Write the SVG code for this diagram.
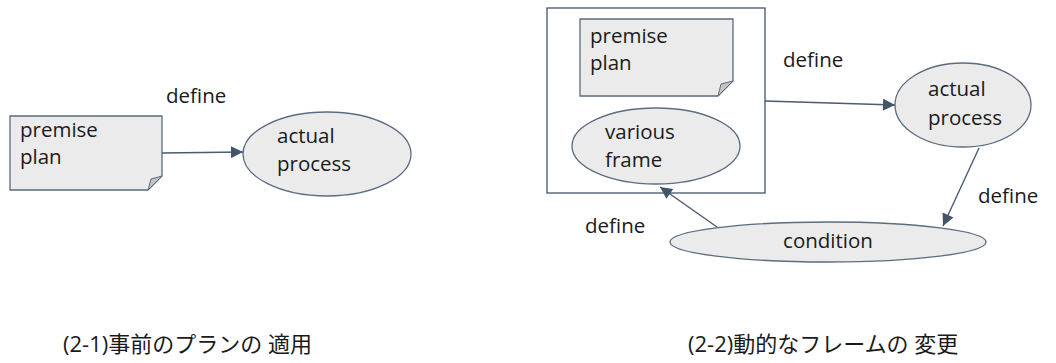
<svg xmlns="http://www.w3.org/2000/svg" width="1056" height="363" viewBox="0 0 1056 363">
  <defs>
    <marker id="arrow" viewBox="0 0 10 10" refX="10" refY="5" markerWidth="14" markerHeight="12" markerUnits="userSpaceOnUse" orient="auto">
      <path d="M0,0 L10,5 L0,10 Z" fill="#44546a"/>
    </marker>
    <style>
      .shape { fill: #ebebeb; stroke: #5b6b80; stroke-width: 1.3; }
      .frame { fill: #ffffff; stroke: #44546a; stroke-width: 1.3; }
      .fold { fill: #c4c4c4; stroke: #5b6b80; stroke-width: 1; }
      .edge { fill: none; stroke: #4a5a70; stroke-width: 1.4; marker-end: url(#arrow); }
      text { font-family: "Open Sans", "Noto Sans", "Liberation Sans", sans-serif; font-size: 20.5px; fill: #1a1a1a; }
      .caption { font-family: "Open Sans", "Noto Sans CJK JP", sans-serif; font-size: 22px; }
    </style>
  </defs>

  <rect width="1056" height="363" fill="#ffffff"/>

  <!-- (2-1) static application -->
  <g id="plan1">
    <path class="shape" d="M10,116 H162 V176 L148,190 H10 Z"/>
    <path class="fold" d="M162,176 L148,190 L151,179 Z"/>
    <text x="20" y="137">premise</text>
    <text x="20" y="164">plan</text>
  </g>
  <g id="process1">
    <ellipse class="shape" cx="327" cy="154" rx="84" ry="42"/>
    <text x="277" y="143">actual</text>
    <text x="277" y="171">process</text>
  </g>

  <!-- (2-2) dynamic frame change -->
  <g id="frameBox">
    <rect class="frame" x="547" y="8" width="218" height="185"/>
  </g>
  <g id="plan2">
    <path class="shape" d="M580,19 H733 V81 L718,96 H580 Z"/>
    <path class="fold" d="M733,81 L718,96 L721,84 Z"/>
    <text x="590" y="43">premise</text>
    <text x="590" y="70">plan</text>
  </g>
  <g id="variousFrame">
    <ellipse class="shape" cx="656" cy="146" rx="84" ry="38"/>
    <text x="605" y="139">various</text>
    <text x="605" y="167">frame</text>
  </g>
  <g id="process2">
    <ellipse class="shape" cx="963" cy="105" rx="68" ry="42"/>
    <text x="928" y="96">actual</text>
    <text x="928" y="125">process</text>
  </g>
  <g id="condition">
    <ellipse class="shape" cx="828" cy="242" rx="158" ry="20"/>
    <text x="828" y="248" text-anchor="middle">condition</text>
  </g>

  <!-- connectors -->
  <g id="connectors">
    <path class="edge" d="M162,153 L243,152"/>
    <path class="edge" d="M765,101 L895,105"/>
    <path class="edge" d="M979,148 L943,226"/>
    <path class="edge" d="M717,227 L660,187"/>
  </g>

  <!-- connector labels -->
  <g id="labels">
    <text x="166" y="103">define</text>
    <text x="783" y="67">define</text>
    <text x="978" y="203">define</text>
    <text x="585" y="233">define</text>
  </g>

  <!-- captions -->
  <g id="captions">
    <text class="caption" x="63" y="352">(2-1)事前のプランの 適用</text>
    <text class="caption" x="688" y="352">(2-2)動的なフレームの 変更</text>
  </g>
</svg>
